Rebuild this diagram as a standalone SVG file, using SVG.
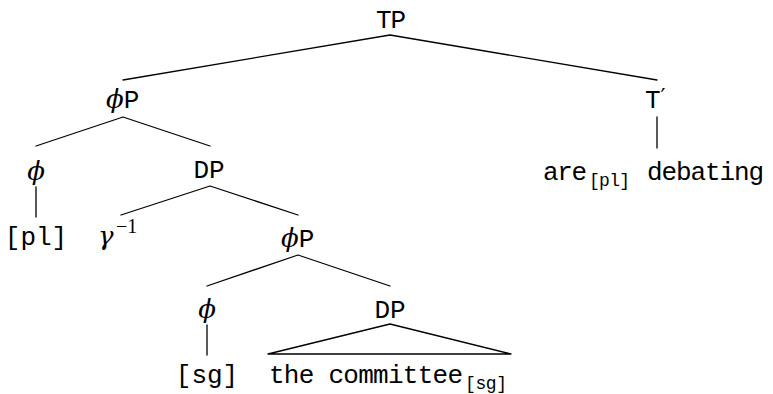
<svg xmlns="http://www.w3.org/2000/svg" width="773" height="394" viewBox="0 0 773 394">
<style>
.tt{font-family:"Liberation Mono","DejaVu Sans Mono",monospace;font-size:26px;fill:#000}
.sub{font-family:"Liberation Mono","DejaVu Sans Mono",monospace;font-size:18px;fill:#000}
.it{font-family:"DejaVu Serif","Liberation Serif",serif;font-style:italic;font-size:26px;fill:#000}
.rm{font-family:"Liberation Serif","DejaVu Serif",serif;font-size:20px;fill:#000}
.edge{stroke:#000;stroke-width:1.3;fill:none;stroke-linecap:round;stroke-linejoin:round}
</style>
<rect width="773" height="394" fill="#fff"/>
<g id="connectors">
<path class="edge" d="M123,80 L390,35 L657,80"/>
<path class="edge" d="M36,146 L123,117 L210,146"/>
<path class="edge" d="M36,187 L36,217"/>
<path class="edge" d="M121,215 L210,186 L298,215"/>
<path class="edge" d="M207,286 L298,255 L390,286"/>
<path class="edge" d="M207,325 L207,355"/>
<path class="edge" d="M268,354 L390,324 L511,354 Z"/>
<path class="edge" d="M657,117 L657,148"/>
</g>
<g id="TP"><text class="tt" x="391" y="28" text-anchor="middle" textLength="30">TP</text></g>
<g id="phiP1"><text x="106" y="108"><tspan class="it">ϕ</tspan><tspan class="tt">P</tspan></text></g>
<g id="Tbar"><text x="645" y="108"><tspan class="tt">T</tspan><tspan font-family="DejaVu Sans, sans-serif" font-size="22" dy="-4">′</tspan></text></g>
<g id="phi1"><text class="it" x="36" y="180" text-anchor="middle">ϕ</text></g>
<g id="DP1"><text class="tt" x="209" y="178" text-anchor="middle">DP</text></g>
<g id="pl"><text class="tt" x="36" y="245" text-anchor="middle">[pl]</text></g>
<g id="gamma"><text x="98" y="245"><tspan class="it" font-size="29">γ</tspan><tspan class="rm" x="116" y="233">−1</tspan></text></g>
<g id="phiP2"><text x="281" y="247"><tspan class="it">ϕ</tspan><tspan class="tt">P</tspan></text></g>
<g id="phi2"><text class="it" x="207" y="318" text-anchor="middle">ϕ</text></g>
<g id="DP2"><text class="tt" x="390" y="318" text-anchor="middle">DP</text></g>
<g id="sg"><text class="tt" x="207" y="383" text-anchor="middle">[sg]</text></g>
<g id="committee"><text x="269" y="383"><tspan class="tt" textLength="194">the committee</tspan><tspan class="sub" x="465" dy="6" textLength="42">[sg]</tspan></text></g>
<g id="are-debating"><text x="543" y="180"><tspan class="tt" textLength="44">are</tspan><tspan class="sub" x="589" dy="6" textLength="41">[pl]</tspan><tspan class="tt" x="647" y="180" textLength="117">debating</tspan></text></g>
</svg>
